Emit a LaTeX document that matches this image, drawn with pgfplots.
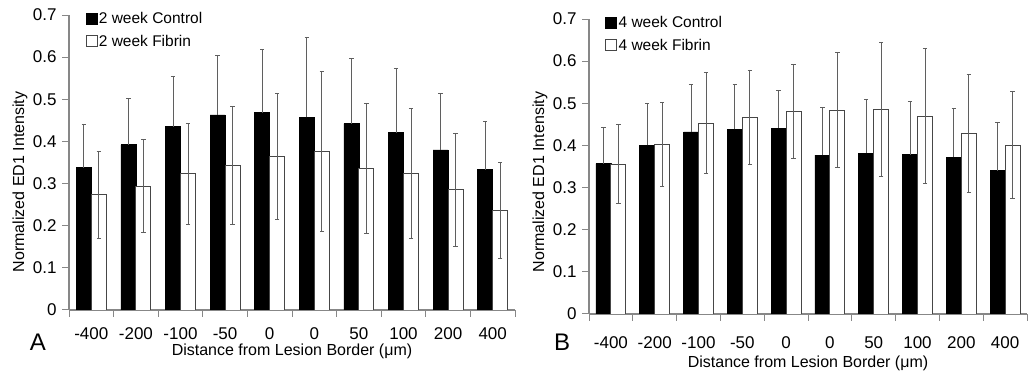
\documentclass[border=0pt]{standalone}
\usepackage{fontspec}
\setmainfont{Liberation Sans}
\usepackage{pgfplots}
\usepackage{pgfplotstable}
\pgfplotsset{compat=1.18}
\definecolor{axgray}{RGB}{135,135,135}
\definecolor{errgray}{RGB}{95,95,95}
\definecolor{fibgray}{RGB}{70,70,70}

\pgfplotstableread{
x c ce f fe
0 0.338 0.102 0.273 0.103
1 0.392 0.109 0.294 0.110
2 0.435 0.119 0.323 0.120
3 0.463 0.142 0.343 0.141
4 0.468 0.150 0.364 0.149
5 0.457 0.190 0.376 0.190
6 0.442 0.154 0.335 0.154
7 0.421 0.152 0.324 0.154
8 0.380 0.133 0.285 0.134
9 0.333 0.114 0.236 0.114
}\dataA
\pgfplotstableread{
x c ce f fe
0 0.357 0.086 0.356 0.093
1 0.400 0.100 0.403 0.100
2 0.432 0.112 0.453 0.120
3 0.438 0.106 0.467 0.112
4 0.441 0.089 0.481 0.111
5 0.377 0.113 0.484 0.136
6 0.382 0.128 0.486 0.159
7 0.378 0.126 0.469 0.160
8 0.372 0.116 0.428 0.140
9 0.340 0.114 0.401 0.127
}\dataB

\pgfplotsset{
  panel/.style={
    scale only axis,
    height=295pt,
    xmin=-0.5, xmax=9.5,
    ymin=0, ymax=0.7,
    axis lines=left,
    axis line style={-, draw=axgray, line width=1.2pt},
    tick style={draw=axgray, line width=1pt},
    tick align=outside,
    major tick length=7pt,
    tick label style={font=\fontsize{17}{20}\selectfont},
    ytick={0,0.1,0.2,0.3,0.4,0.5,0.6,0.7},
    yticklabel style={xshift=-2pt, /pgf/number format/fixed, /pgf/number format/precision=1},
    /pgf/number format/assume math mode=true,
    xtick={-0.5,0.5,1.5,2.5,3.5,4.5,5.5,6.5,7.5,8.5,9.5},
    x tick label as interval,
    xticklabels={-400,-200,-100,-50,0,0,50,100,200,400},
    ylabel={Normalized ED1 Intensity},
    xlabel={Distance from Lesion Border (μm)},
    legend style={draw=none, fill=none, font=\fontsize{15.5}{18}\selectfont,
      anchor=north west, row sep=8pt, nodes={inner xsep=1.5pt, inner ysep=1pt}},
    legend cell align=left,
    legend image code/.code={\draw[##1, line width=0.8pt] (0pt,-5.5pt) rectangle (11pt,5.5pt);},
  },
  ctrl/.style={ybar, bar width=15pt, bar shift=-7.5pt, fill=black, draw=black, line width=0.6pt,
    error bars/.cd, y dir=plus, y explicit,
    error bar style={xshift=-7.5pt, errgray, line width=0.9pt},
    error mark options={xshift=-7.5pt, rotate=90, errgray, mark size=2.2pt, line width=0.9pt}},
  fibr/.style={ybar, bar width=15pt, bar shift=7.5pt, fill=white, draw=fibgray, line width=0.9pt,
    error bars/.cd, y dir=both, y explicit,
    error bar style={xshift=7.5pt, errgray, line width=0.9pt},
    error mark options={xshift=7.5pt, rotate=90, errgray, mark size=2.2pt, line width=0.9pt}},
}

\begin{document}
\begin{tikzpicture}[font=\fontsize{16}{19}\selectfont]
\path[use as bounding box] (0,0) rectangle (1028pt,374pt);
\begin{axis}[panel, at={(69pt,64pt)}, anchor=south west, width=446pt,
  xticklabel style={yshift=-7pt},
  ylabel style={at={(axis description cs:-0.11,0.434)}, anchor=center},
  xlabel style={at={(axis description cs:0.5,-0.141)}, anchor=center},
  legend style={at={(axis description cs:0.03,1.02)}}]
\addplot[ctrl] table[x=x, y=c, y error=ce] {\dataA};
\addlegendentry{2 week Control}
\addplot[fibr] table[x=x, y=f, y error=fe] {\dataA};
\addlegendentry{2 week Fibrin}
\end{axis}
\begin{axis}[panel, at={(589pt,60pt)}, anchor=south west, width=438pt,
  xticklabel style={yshift=-12pt},
  ylabel style={at={(axis description cs:-0.112,0.447)}, anchor=center},
  xlabel style={at={(axis description cs:0.5,-0.168)}, anchor=center},
  legend style={at={(axis description cs:0.03,1.02)}}]
\addplot[ctrl] table[x=x, y=c, y error=ce] {\dataB};
\addlegendentry{4 week Control}
\addplot[fibr] table[x=x, y=f, y error=fe] {\dataB};
\addlegendentry{4 week Fibrin}
\end{axis}
\node[font=\fontsize{24}{24}\selectfont] at (38pt,32pt) {A};
\node[font=\fontsize{24}{24}\selectfont] at (562pt,32pt) {B};
\end{tikzpicture}
\end{document}
